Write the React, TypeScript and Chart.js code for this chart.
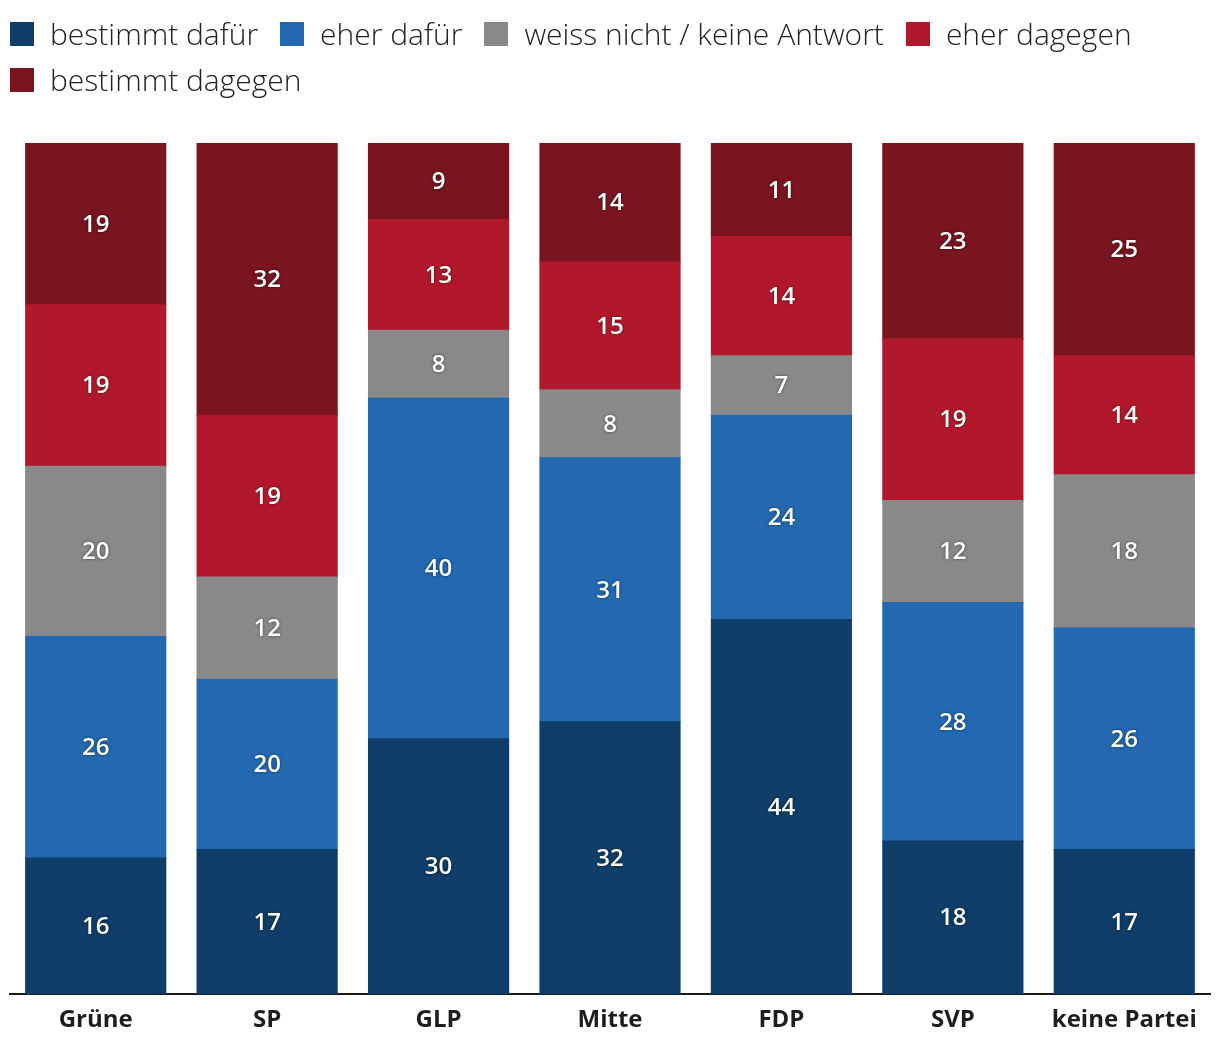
import React, { useEffect, useRef } from "react";
import { Chart, registerables } from "chart.js";

Chart.register(...registerables);

const categories = ["Grüne", "SP", "GLP", "Mitte", "FDP", "SVP", "keine Partei"];
const seriesLabels = [
  "bestimmt dafür",
  "eher dafür",
  "weiss nicht / keine Antwort",
  "eher dagegen",
  "bestimmt dagegen",
];
const bestimmtDafuer = [16, 17, 30, 32, 44, 18, 17];
const eherDafuer = [26, 20, 40, 31, 24, 28, 26];
const weissNicht = [20, 12, 8, 8, 7, 12, 18];
const eherDagegen = [19, 19, 13, 15, 14, 19, 14];
const bestimmtDagegen = [19, 32, 9, 14, 11, 23, 25];
const seriesValues = [bestimmtDafuer, eherDafuer, weissNicht, eherDagegen, bestimmtDagegen];
const seriesColors = ["#0e3e69", "#2369b1", "#898989", "#b2182b", "#7a141f"];

const FONT = "'Open Sans', 'Noto Sans', sans-serif";

const valueLabelPlugin = {
  id: "valueLabels",
  afterDatasetsDraw(chart: any) {
    const ctx = chart.ctx;
    ctx.save();
    ctx.font = `600 24px ${FONT}`;
    ctx.textAlign = "center";
    ctx.textBaseline = "middle";
    ctx.fillStyle = "#ffffff";
    ctx.shadowColor = "rgba(0,0,0,0.55)";
    ctx.shadowBlur = 3;
    chart.data.datasets.forEach((ds: any, di: number) => {
      const meta = chart.getDatasetMeta(di);
      meta.data.forEach((el: any, i: number) => {
        const { x, y, base } = el.getProps(["x", "y", "base"], true);
        ctx.fillText(String(ds.data[i]), x, (y + base) / 2 + 1);
      });
    });
    ctx.restore();
  },
};

export default function App() {
  const canvasRef = useRef<HTMLCanvasElement | null>(null);

  useEffect(() => {
    if (!canvasRef.current) return;
    const chart = new Chart(canvasRef.current, {
      type: "bar",
      data: {
        labels: categories,
        datasets: seriesLabels.map((label, i) => ({
          label,
          data: seriesValues[i],
          backgroundColor: seriesColors[i],
          borderWidth: 0,
          inflateAmount: 0.6,
          barPercentage: 0.8167,
          categoryPercentage: 1,
        })),
      },
      options: {
        responsive: false,
        animation: false,
        layout: { padding: { top: 143, left: 10, right: 10, bottom: 9 } },
        plugins: {
          legend: { display: false },
          tooltip: { enabled: false },
        },
        scales: {
          x: {
            stacked: true,
            grid: { display: false, drawTicks: false },
            border: { display: true, color: "#1a1a1a", width: 2 },
            ticks: {
              padding: 12,
              color: "#1e1e1e",
              font: { family: FONT, size: 24, weight: "bold" },
            },
          },
          y: {
            stacked: true,
            display: false,
            min: 0,
            max: 100,
          },
        },
      },
      plugins: [valueLabelPlugin],
    });
    return () => chart.destroy();
  }, []);

  return (
    <div style={{ position: "absolute", left: 0, top: 0, width: 1220, height: 1056, background: "#fff" }}>
      <div
        style={{
          position: "absolute",
          left: 10,
          top: 15,
          width: 1200,
          display: "flex",
          flexWrap: "wrap",
          columnGap: 22,
          rowGap: 8,
          fontFamily: FONT,
          fontWeight: 300,
          fontSize: 30,
          color: "#222",
          lineHeight: "38px",
          zIndex: 1,
        }}
      >
        {seriesLabels.map((label, i) => (
          <div key={label} style={{ display: "flex", alignItems: "center", whiteSpace: "nowrap" }}>
            <span
              style={{
                display: "inline-block",
                width: 24,
                height: 24,
                background: seriesColors[i],
                marginRight: 16,
              }}
            />
            <span>{label}</span>
          </div>
        ))}
      </div>
      <canvas ref={canvasRef} width={1220} height={1056} style={{ position: "absolute", left: 0, top: 0 }} />
    </div>
  );
}
